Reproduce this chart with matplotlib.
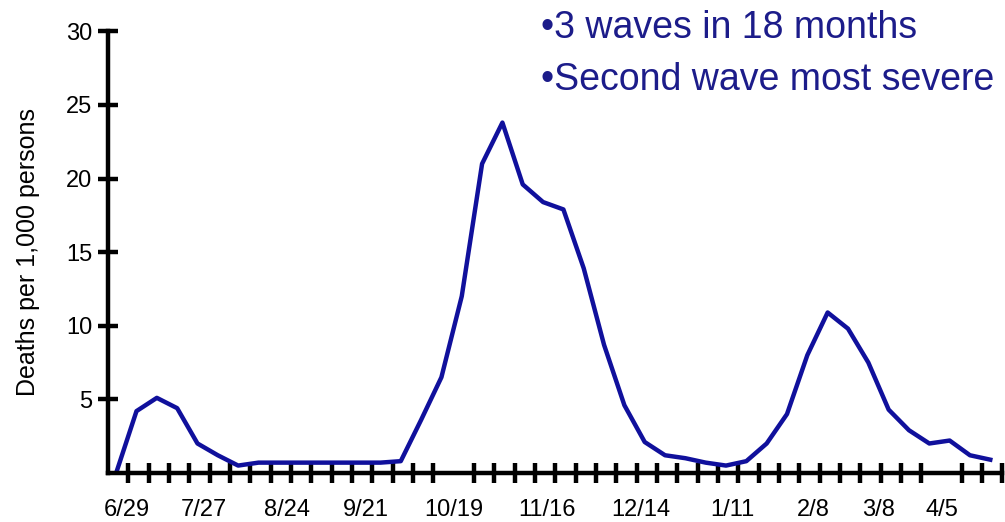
import numpy as np
import matplotlib
matplotlib.use("Agg")
import matplotlib.pyplot as plt

plt.rcParams["font.family"] = ["Liberation Sans", "DejaVu Sans"]

# weekly death rate (deaths per 1,000 persons)
deaths = [0.0, 4.2, 5.1, 4.4, 2.0, 1.2, 0.5, 0.7, 0.7, 0.7,
          0.7, 0.7, 0.7, 0.7, 0.8, 3.6, 6.5, 12.0, 21.0, 23.8,
          19.6, 18.4, 17.9, 13.9, 8.7, 4.6, 2.1, 1.2, 1.0, 0.7,
          0.5, 0.8, 2.0, 4.0, 8.0, 10.9, 9.8, 7.5, 4.3, 2.9,
          2.0, 2.2, 1.2, 0.9]
weeks = np.arange(len(deaths)) + 0.4

date_labels = ["6/29", "7/27", "8/24", "9/21", "10/19", "11/16",
               "12/14", "1/11", "2/8", "3/8", "4/5"]
label_pos = [0.94, 4.7, 8.8, 12.7, 17.0, 21.6, 26.2, 30.7, 34.7, 37.9, 41.0]

y_ticks = [5, 10, 15, 20, 25, 30]
notes = ["\u20223 waves in 18 months", "\u2022Second wave most severe"]

line_col = "#10109c"
text_col = "#1c1c8a"

fig = plt.figure(figsize=(10.05, 5.22), dpi=100)
ax = fig.add_axes([0.1075, 0.094, 0.89, 0.846])

ax.plot(weeks, deaths, color=line_col, lw=3.2, solid_joinstyle="round")

ax.set_xlim(0, 44)
ax.set_ylim(0, 30)

for s in ["top", "right"]:
    ax.spines[s].set_visible(False)
for s in ["left", "bottom"]:
    ax.spines[s].set_linewidth(3.2)
    ax.spines[s].set_zorder(5)

# weekly tick marks, date labels placed like the original slide
ax.set_xticks(np.arange(1, 45), minor=True)
ax.set_xticks(label_pos)
ax.set_xticklabels(date_labels, fontsize=17)
ax.tick_params(axis="x", which="major", length=0, pad=19)
ax.tick_params(axis="x", which="minor", direction="inout", length=14, width=3.2)

ax.set_yticks(y_ticks)
ax.set_yticklabels([str(v) for v in y_ticks], fontsize=17)
ax.tick_params(axis="y", direction="inout", length=15, width=3.2, pad=4)

ax.set_ylabel("Deaths per 1,000 persons", fontsize=18)
ax.yaxis.set_label_coords(-0.076, 0.5)

fig.text(0.538, 0.946, notes[0], fontsize=27, color=text_col, va="center")
fig.text(0.538, 0.847, notes[1], fontsize=27, color=text_col, va="center")

fig.savefig("out.png", dpi=100)
